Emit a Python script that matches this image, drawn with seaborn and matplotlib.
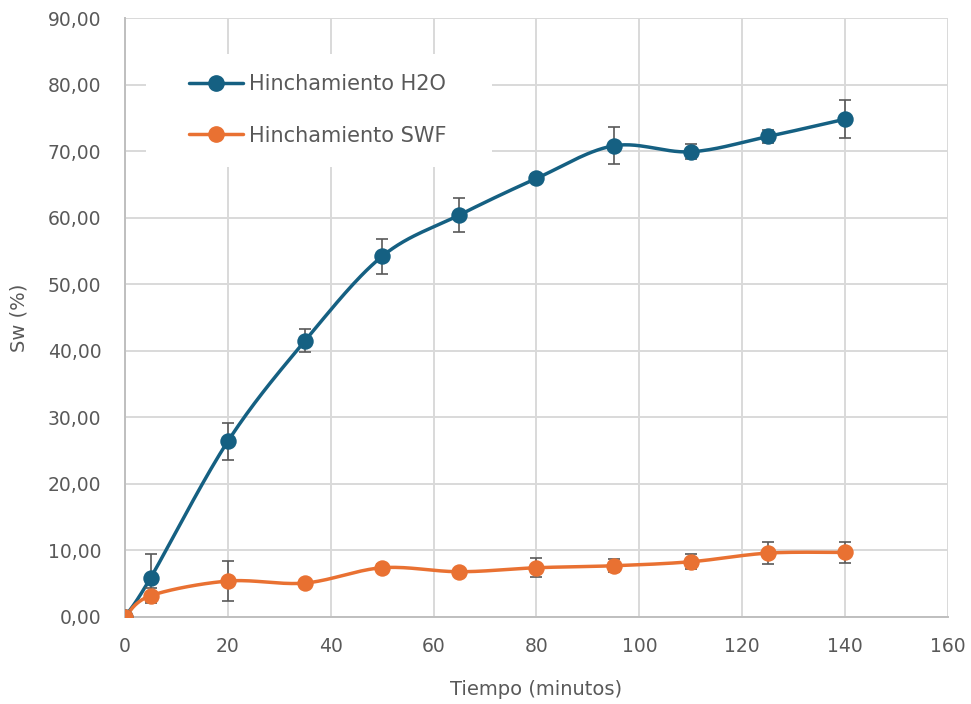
import numpy as np
import pandas as pd
import matplotlib
matplotlib.use("Agg")
import matplotlib.pyplot as plt
import seaborn as sns
from matplotlib.lines import Line2D
from matplotlib.patches import Rectangle

# Swelling data (Sw %) versus time
tiempo = [0, 5, 20, 35, 50, 65, 80, 95, 110, 125, 140]
sw_h2o = [0.0, 5.9, 26.4, 41.5, 54.2, 60.4, 65.9, 70.8, 69.9, 72.2, 74.8]
err_h2o = [0.0, 3.5, 2.8, 1.7, 2.6, 2.5, 0.6, 2.8, 1.1, 1.0, 2.9]
sw_swf = [0.0, 3.2, 5.4, 5.1, 7.4, 6.8, 7.4, 7.7, 8.3, 9.6, 9.7]
err_swf = [0.0, 1.1, 3.0, 0.5, 0.5, 0.4, 1.45, 1.0, 1.1, 1.6, 1.6]

series_names = ["Hinchamiento H2O", "Hinchamiento SWF"]
colors = ["#156082", "#E97132"]
x_ticks = [0, 20, 40, 60, 80, 100, 120, 140, 160]
y_ticks = [0, 10, 20, 30, 40, 50, 60, 70, 80, 90]

text_color = "#595959"
grid_color = "#D9D9D9"


def smooth_curve(x, y, sx=5.14, sy=6.66, n=30):
    """Catmull-Rom style smoothed path through the points (in screen-like scale)."""
    px = np.asarray(x, float) * sx
    py = np.asarray(y, float) * sy
    pts = np.column_stack([px, py])
    out = []
    for i in range(len(pts) - 1):
        p0 = pts[i - 1] if i > 0 else pts[i]
        p1 = pts[i]
        p2 = pts[i + 1]
        p3 = pts[i + 2] if i + 2 < len(pts) else pts[i + 1]
        c1 = p1 + (p2 - p0) / 6.0
        c2 = p2 - (p3 - p1) / 6.0
        t = np.linspace(0, 1, n)[:, None]
        seg = ((1 - t) ** 3) * p1 + 3 * ((1 - t) ** 2) * t * c1 + 3 * (1 - t) * t ** 2 * c2 + t ** 3 * p2
        out.append(seg if i == 0 else seg[1:])
    out = np.vstack(out)
    return out[:, 0] / sx, out[:, 1] / sy


sns.set_theme(style="white")
plt.rcParams["font.family"] = ["DejaVu Sans"]

fig = plt.figure(figsize=(9.71, 7.04), dpi=100)
ax = fig.add_axes([0.1287, 0.1236, 0.8476, 0.8508])

for name, ys, errs, col in zip(series_names, [sw_h2o, sw_swf], [err_h2o, err_swf], colors):
    cx, cy = smooth_curve(tiempo, ys)
    curve = pd.DataFrame({"t": cx, "v": cy})
    sns.lineplot(data=curve, x="t", y="v", ax=ax, color=col, lw=2.5,
                 sort=False, estimator=None, zorder=3)
    ax.errorbar(tiempo, ys, yerr=errs, fmt="none", ecolor="#595959",
                elinewidth=1.2, capsize=4.5, capthick=1.2, zorder=4)
    pts = pd.DataFrame({"t": tiempo, "v": ys})
    sns.scatterplot(data=pts, x="t", y="v", ax=ax, color=col, s=140,
                    edgecolor=col, linewidth=0, zorder=5)

ax.set_xlim(0, 160)
ax.set_ylim(0, 90)
ax.set_xticks(x_ticks)
ax.set_yticks(y_ticks)
ax.set_yticklabels([f"{v:.2f}".replace(".", ",") for v in y_ticks])
ax.tick_params(axis="x", labelsize=13.5, colors=text_color, length=0, pad=14.5)
ax.tick_params(axis="y", labelsize=13.5, colors=text_color, length=0, pad=17)
ax.grid(True, color=grid_color, lw=1.4)
ax.set_axisbelow(True)

for side in ["top", "right"]:
    ax.spines[side].set_visible(False)
for side in ["left", "bottom"]:
    ax.spines[side].set_color("#BFBFBF")
    ax.spines[side].set_linewidth(1.4)

ax.set_xlabel("Tiempo (minutos)", fontsize=14, color=text_color, labelpad=17)
ax.set_ylabel("Sw (%)", fontsize=14, color=text_color, labelpad=14)

# white panel behind the legend
ax.add_patch(Rectangle((0.0255, 0.751), 0.4205, 0.189, transform=ax.transAxes,
                       facecolor="white", edgecolor="none", zorder=2.5))

handles = [Line2D([0], [0], color=c, lw=2.5, marker="o", markersize=11) for c in colors]
leg = ax.legend(handles, series_names, loc="upper left", bbox_to_anchor=(0.078, 0.906),
                frameon=False, fontsize=15, labelcolor=text_color, handlelength=2.6,
                handletextpad=0.28, labelspacing=1.5, borderpad=0, borderaxespad=0)
leg.set_zorder(6)

fig.savefig("out.png", dpi=100)
